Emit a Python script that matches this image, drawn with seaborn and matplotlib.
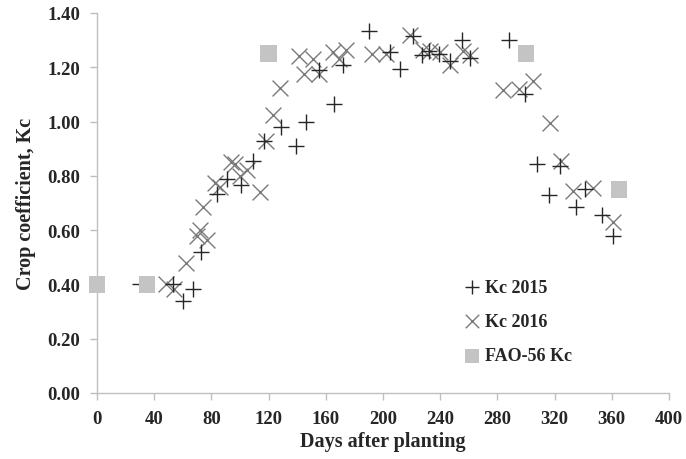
import matplotlib
matplotlib.use("Agg")
import matplotlib.pyplot as plt
import seaborn as sns
import pandas as pd

# Kc 2015 (+)
days_2015 = [30, 53, 60, 67, 73, 84, 91, 101, 109, 117, 129, 139, 146, 155, 166, 172,
             190, 205, 212, 221, 227, 232, 239, 247, 255, 261, 288, 299, 307.5, 316,
             324, 335, 341, 353, 361]
kc_2015 = [0.40, 0.40, 0.34, 0.385, 0.52, 0.735, 0.79, 0.765, 0.855, 0.93, 0.98, 0.91,
           1.00, 1.19, 1.065, 1.21, 1.335, 1.255, 1.195, 1.315, 1.245, 1.26, 1.25, 1.225,
           1.30, 1.235, 1.30, 1.10, 0.845, 0.73, 0.835, 0.685, 0.75, 0.655, 0.58]

# Kc 2016 (x)
days_2016 = [48, 54, 62, 70, 72, 77, 74, 82.5, 86, 93.5, 96.5, 100, 105, 114, 118, 123,
             128, 141, 145, 151, 155, 165, 169, 174, 192, 202, 219, 228, 233, 240, 247,
             256, 261, 284, 295, 305, 317, 324.5, 333, 347, 361]
kc_2016 = [0.40, 0.385, 0.48, 0.58, 0.60, 0.565, 0.685, 0.775, 0.76, 0.85, 0.845, 0.80,
           0.82, 0.74, 0.93, 1.025, 1.125, 1.24, 1.175, 1.23, 1.175, 1.255, 1.23, 1.265,
           1.25, 1.25, 1.32, 1.265, 1.26, 1.255, 1.21, 1.26, 1.245, 1.115, 1.12, 1.15,
           0.995, 0.855, 0.745, 0.755, 0.63]

# FAO-56 Kc (squares)
days_fao = [0, 35, 120, 300, 365]
kc_fao = [0.40, 0.40, 1.25, 1.25, 0.75]

x_ticks = [0, 40, 80, 120, 160, 200, 240, 280, 320, 360, 400]
y_ticks = [0.0, 0.2, 0.4, 0.6, 0.8, 1.0, 1.2, 1.4]

sns.set_theme(style="white")
plt.rcParams['font.family'] = ['Liberation Serif', 'DejaVu Serif']
plt.rcParams['font.weight'] = 'bold'

fig = plt.figure(figsize=(6.86, 4.60), dpi=100)
ax = fig.add_axes([97/686, 66/460, 572/686, 380/460])

df15 = pd.DataFrame({"day": days_2015, "kc": kc_2015})
df16 = pd.DataFrame({"day": days_2016, "kc": kc_2016})
dff = pd.DataFrame({"day": days_fao, "kc": kc_fao})

sns.scatterplot(data=df15, x="day", y="kc", marker="+", s=130, color="#262626",
                linewidth=1.0, ax=ax, label="Kc 2015", zorder=3)
sns.scatterplot(data=df16, x="day", y="kc", marker="x", s=130, color="#7a7a7a",
                linewidth=1.0, ax=ax, label="Kc 2016", zorder=2)
sns.scatterplot(data=dff, x="day", y="kc", marker="s", s=140, color="#c4c4c4",
                edgecolor="none", ax=ax, label="FAO-56 Kc", zorder=4, clip_on=False)

ax.set_xlim(0, 400)
ax.set_ylim(0, 1.4)
ax.set_xticks(x_ticks)
ax.set_xticklabels([str(t) for t in x_ticks])
ax.set_yticks(y_ticks)
ax.set_yticklabels([f"{t:.2f}" for t in y_ticks])

for side in ["top", "right"]:
    ax.spines[side].set_visible(False)
for side in ["left", "bottom"]:
    ax.spines[side].set_color("#bfbfbf")
    ax.spines[side].set_linewidth(1.0)

ax.tick_params(axis="both", which="major", direction="out", length=5, width=1.0,
               color="#bfbfbf", labelsize=13.5, pad=7, left=True, bottom=True)
for lab in ax.get_xticklabels() + ax.get_yticklabels():
    lab.set_fontweight("bold")

ax.set_xlabel("Days after planting", fontsize=14.5, fontweight="bold", labelpad=3)
ax.set_ylabel("Crop coefficient, Kc", fontsize=14.5, fontweight="bold", labelpad=8)

ax.legend(loc="upper left", bbox_to_anchor=(0.637, 0.30), frameon=False,
          prop={"weight": "bold", "size": 13, "family": "Liberation Serif"},
          handletextpad=0.1, labelspacing=0.95, handlelength=1.2, borderaxespad=0,
          borderpad=0, markerscale=0.85)

fig.savefig("out.png", dpi=100)
